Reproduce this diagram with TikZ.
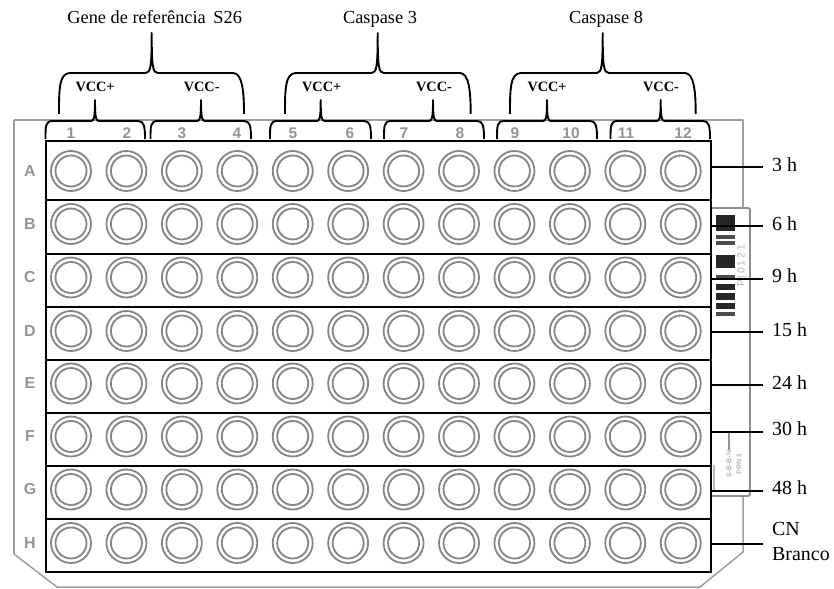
\documentclass[tikz,border=0pt]{standalone}
\usepackage{fontspec}
\setmainfont{Liberation Serif}
\newfontfamily\platefont{Liberation Sans}
\definecolor{wellgray}{gray}{0.52}
\definecolor{edgegray}{gray}{0.62}
\definecolor{numgray}{gray}{0.58}
\tikzset{
  px/.style={x=1bp,y=-1bp},
  rowbox/.style={draw=black,line width=2bp,minimum width=665bp,inner sep=0pt,anchor=north west},
  wellouter/.style={circle,draw=wellgray,line width=1.8bp,minimum size=40bp,inner sep=0pt},
  wellinner/.style={circle,draw=wellgray,line width=1.8bp,minimum size=31bp,inner sep=0pt},
  rowletter/.style={text=numgray,font=\platefont\bfseries\fontsize{16}{16}\selectfont,inner sep=0pt},
  colnum/.style={text=numgray,font=\platefont\bfseries\fontsize{15.5}{16}\selectfont,inner sep=0pt,anchor=base},
  headlabel/.style={font=\fontsize{18.4}{19}\selectfont,inner sep=0pt,anchor=base},
  vcclabel/.style={font=\bfseries\fontsize{14.3}{15}\selectfont,inner sep=0pt,anchor=base},
  timelabel/.style={font=\fontsize{20}{21}\selectfont,inner sep=0pt,anchor=west},
  brace/.style={draw=black,line width=1.9bp,line join=round},
  tick/.style={draw=black,line width=1.7bp},
  plate/.style={draw=edgegray,line width=1.5bp},
  bar/.style={fill=black!85,draw=none},
  thinbar/.style={fill=black!70,draw=none},
  tinyprint/.style={text=numgray!70,font=\platefont\bfseries\fontsize{7}{7}\selectfont,inner sep=0pt,rotate=90}
}
\newcommand{\lowbrace}[4]{%
  \coordinate (#4peak) at (#3,100);
  \path[brace] (#1,139) .. controls (#1,126) and (#1,121) .. (#1+7,121)
     -- (#3-4,121) .. controls (#3-1,121) and (#3,118) .. (#4peak)
     .. controls (#3,118) and (#3+1,121) .. (#3+4,121)
     -- (#2-7,121) .. controls (#2-1,121) and (#2,126) .. (#2,139);}
\newcommand{\highbrace}[4]{%
  \coordinate (#4peak) at (#3,33);
  \path[brace] (#1,114) .. controls (#1,90) and (#1,73) .. (#1+11,73)
     -- (#3-6,73) .. controls (#3-1,73) and (#3,66) .. (#4peak)
     .. controls (#3,66) and (#3+1,73) .. (#3+6,73)
     -- (#2-11,73) .. controls (#2-2,73) and (#2,90) .. (#2,114);}
\begin{document}
\begin{tikzpicture}[px]
\useasboundingbox (0,0) rectangle (834,589);
% plate outline
\draw[plate,line join=round] (743,208) -- (743,120) -- (14,120);
\draw[plate,line width=2.2bp] (14,120) -- (14,554);
\draw[plate,line join=round] (14,554) -- (57,587) -- (700,587) -- (743,552) -- (743,496);
\draw[plate,line width=1.8bp,draw=gray!90,rounded corners=2bp] (712,208) -- (750,208) -- (750,496) -- (712,496);
\draw[plate,line width=2.4bp,draw=gray!55] (714,465) -- (714,492);
% barcode
\foreach \a/\b in {215/231,254.5/268,284/290,293/300,303/309}
  \fill[bar] (716,\a) rectangle (734.5,\b);
\foreach \a/\b in {235/238.5,241/245,275/280,312/316}
  \fill[thinbar] (716,\a) rectangle (734.5,\b);
\node[tinyprint,font=\platefont\fontsize{10.5}{11}\selectfont] (code) at (742,266) {P\,|\,0\,1\,2\,1};
\node[tinyprint] (print1) at (729,464) {S-B-B-N};
\node[tinyprint] (print2) at (739,464) {PRN 1};
\draw[draw=numgray,line width=1.6bp] (729,433) -- (729,450);
% rows
\foreach \n/\t/\h in {A/140/59,B/199/53.5,C/252.5/53.5,D/306/53,E/359/53,F/412/52.5,G/464.5/53.5,H/518/52.5}
  \node[rowbox,minimum height=\h bp] (row\n) at (45,\t) {};
% wells
\foreach \n/\y/\l in {A/171/A,B/224/B,C/277.5/C,D/331/D,E/383.5/E,F/436.5/F,G/489.5/G,H/543/H}{
  \node[rowletter] (let\n) at (30,\y) {\l};
  \foreach \c in {1,...,12}{
    \pgfmathsetmacro{\xc}{71+55.43*(\c-1)}
    \node[wellouter] (o\n\c) at (\xc,\y) {};
    \node[wellinner] (i\n\c) at (\xc,\y) {};
  }
}
% column numbers
\foreach \c/\x in {1/71,2/127,3/182,4/237,5/293,6/350,7/404,8/460,9/515,10/571,11/626,12/683}
  \node[colnum] (num\c) at (\x,139) {\c};
% brackets
\lowbrace{45.5}{145}{95}{la}
\lowbrace{150.5}{251}{201}{lb}
\lowbrace{270}{371}{320.7}{lc}
\lowbrace{384}{484}{433}{ld}
\lowbrace{497}{597}{547}{le}
\lowbrace{610.5}{710}{660.7}{lf}
\highbrace{59}{244}{151.7}{ha}
\highbrace{285}{470.7}{377.7}{hb}
\highbrace{510}{695.7}{602.7}{hc}
% labels
\node[headlabel] (gene) at (154.7,24) {Gene de referência\, S26};
\node[headlabel] (casp3) at (380,24) {Caspase 3};
\node[headlabel] (casp8) at (606,24) {Caspase 8};
\foreach \k/\x/\t in {la/95/VCC+,lb/201.7/VCC-,lc/321.7/VCC+,ld/434/VCC-,le/547/VCC+,lf/661/VCC-}
  \node[vcclabel] (v\k) at (\x,92) {\t};
% time labels and connectors
\foreach \k/\yc/\yl/\t in {a/166.7/165/3 h,b/226/224/6 h,c/279/276/9 h,d/331.7/330/15 h,e/385/383/24 h,f/431.7/429/30 h,g/491/488/48 h}{
  \node[timelabel] (t\k) at (772,\yl) {\t};
  \coordinate (e\k) at (710,\yc);
  \coordinate (f\k) at (763,\yc);
  \draw[tick] (e\k) -- (f\k);
}
\node[timelabel] (tcn) at (772,529) {CN};
\node[timelabel] (tbr) at (772,554) {Branco};
\coordinate (eh) at (710,544);
\coordinate (fh) at (763,544);
\draw[tick] (eh) -- (fh);
\end{tikzpicture}
\end{document}
